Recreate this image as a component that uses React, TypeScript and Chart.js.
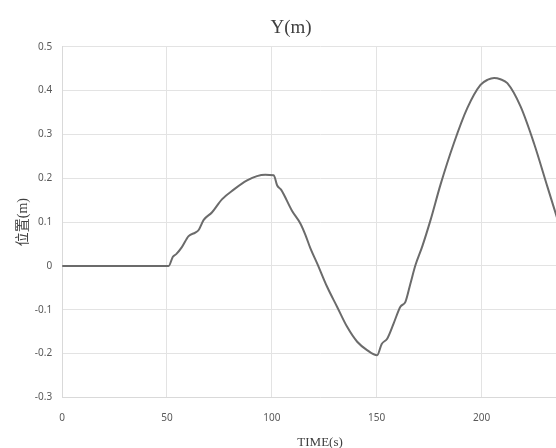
import React, { useEffect, useRef } from "react";
import { Chart, registerables } from "chart.js";

Chart.register(...registerables);

// Sampled displacement history: time (s) and Y position (m)
const times = [
  0, 10, 20, 30, 40, 50.8, 52.8, 54.4, 57.1, 60.3, 63.5, 65.1, 67.5, 71.4, 76.2,
  81.8, 88.2, 92.9, 96.9, 100.9, 102.5, 104.4, 109.6, 113.6, 116, 118.4, 121.6,
  126.3, 131.1, 135.9, 140.7, 145.4, 150.2, 152.4, 155, 158.1, 161.3, 163.7,
  166.1, 168.5, 171.7, 175.7, 180.4, 186.8, 193.2, 199.5, 203, 206, 209, 212.3,
  218.6, 225, 231.4, 236,
];
const positions = [
  0, 0, 0, 0, 0, 0, 0.021, 0.027, 0.043, 0.068, 0.076, 0.082, 0.105, 0.122,
  0.152, 0.174, 0.195, 0.205, 0.208, 0.207, 0.184, 0.174, 0.126, 0.097, 0.071,
  0.04, 0.006, -0.047, -0.093, -0.139, -0.173, -0.192, -0.204, -0.178, -0.166,
  -0.131, -0.093, -0.082, -0.04, 0.002, 0.044, 0.105, 0.185, 0.28, 0.36, 0.413,
  0.425, 0.429, 0.426, 0.417, 0.364, 0.28, 0.181, 0.11,
];

const yTicksMin = -0.3;
const yTicksMax = 0.5;
const yStep = 0.1;
const xMin = 0;
const xMax = 246;
const xStep = 50;

const titleText = "Y(m)";
const xTitle = "TIME(s)";
const yTitle = "位置(m)";

export default function App() {
  const canvasRef = useRef<HTMLCanvasElement | null>(null);

  useEffect(() => {
    const canvas = canvasRef.current;
    if (!canvas) return;
    const serif = "'Liberation Serif', 'Noto Sans CJK SC', serif";
    const sans = "'Noto Sans', 'Liberation Sans', sans-serif";
    const chart = new Chart(canvas, {
      type: "line",
      data: {
        datasets: [
          {
            data: times.map((t, i) => ({ x: t, y: positions[i] })),
            borderColor: "#6b6b6b",
            borderWidth: 2,
            pointRadius: 0,
            fill: false,
            cubicInterpolationMode: "monotone",
          },
        ],
      },
      options: {
        animation: false,
        responsive: false,
        maintainAspectRatio: false,
        layout: { padding: { left: 4, right: 0, top: 0, bottom: 2 } },
        plugins: {
          legend: { display: false },
          tooltip: { enabled: false },
          title: {
            display: true,
            text: titleText,
            color: "#404040",
            font: { family: serif, size: 19, weight: "normal" },
            padding: { top: 17, bottom: 7 },
          },
        },
        scales: {
          x: {
            type: "linear",
            min: xMin,
            max: xMax,
            grid: { color: "#e3e3e3", lineWidth: 1, drawTicks: false },
            border: { color: "#d9d9d9" },
            ticks: {
              stepSize: xStep,
              includeBounds: false,
              color: "#595959",
              padding: 15,
              font: { family: sans, size: 10 },
              maxRotation: 0,
            },
            title: {
              display: true,
              text: xTitle,
              color: "#404040",
              font: { family: serif, size: 13 },
              padding: { top: -5, bottom: 0 },
            },
          },
          y: {
            type: "linear",
            min: yTicksMin,
            max: yTicksMax,
            grid: { color: "#e3e3e3", lineWidth: 1, drawTicks: false },
            border: { color: "#d9d9d9" },
            ticks: {
              stepSize: yStep,
              color: "#595959",
              padding: 10,
              font: { family: sans, size: 10 },
              callback: (v) => String(Number(Number(v).toFixed(1))),
            },
            title: {
              display: true,
              text: yTitle,
              color: "#404040",
              font: { family: serif, size: 14 },
              padding: { top: 11, bottom: -7 },
            },
          },
        },
      },
    });
    return () => chart.destroy();
  }, []);

  return (
    <div
      style={{
        position: "fixed",
        left: 0,
        top: 0,
        width: 556,
        height: 448,
        overflow: "hidden",
        background: "#ffffff",
      }}
    >
      <canvas ref={canvasRef} width={578} height={452} style={{ display: "block" }} />
    </div>
  );
}
